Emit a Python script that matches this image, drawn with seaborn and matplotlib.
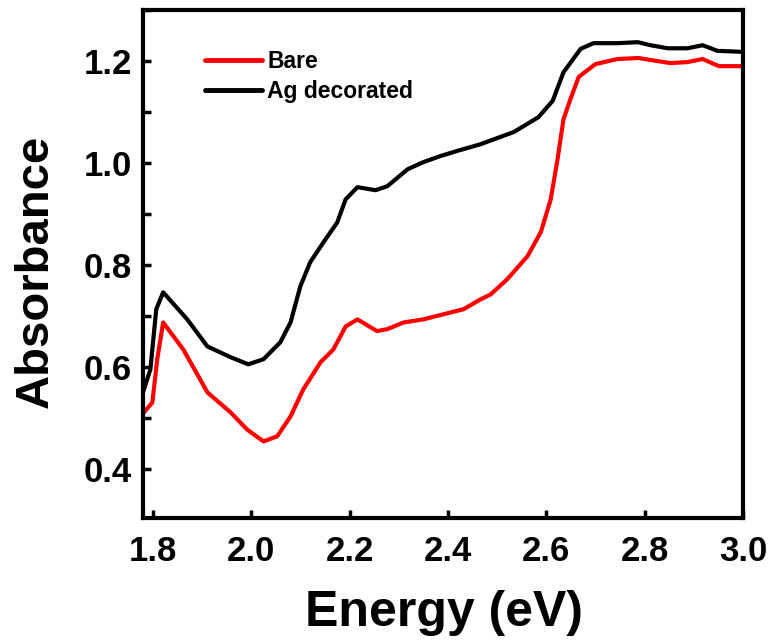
import numpy as np
import pandas as pd
import matplotlib
matplotlib.use("Agg")
import matplotlib.pyplot as plt
from matplotlib.ticker import MultipleLocator
import seaborn as sns

# Data
ag_energy = [1.780, 1.795, 1.807, 1.821, 1.870, 1.911, 1.958, 1.994, 2.025, 2.059,
             2.080, 2.100, 2.120, 2.147, 2.175, 2.192, 2.216, 2.253, 2.277, 2.318,
             2.350, 2.385, 2.419, 2.466, 2.534, 2.584, 2.613, 2.635, 2.670, 2.696,
             2.745, 2.786, 2.812, 2.847, 2.887, 2.918, 2.948, 3.000]
ag_abs = [0.551, 0.596, 0.714, 0.747, 0.694, 0.641, 0.620, 0.606, 0.616, 0.649,
          0.688, 0.759, 0.806, 0.845, 0.884, 0.929, 0.953, 0.947, 0.955, 0.988,
          1.002, 1.014, 1.024, 1.037, 1.061, 1.090, 1.122, 1.178, 1.224, 1.235,
          1.235, 1.237, 1.231, 1.225, 1.225, 1.231, 1.220, 1.218]

bare_energy = [1.782, 1.799, 1.809, 1.821, 1.862, 1.911, 1.958, 1.992, 2.025, 2.053,
               2.080, 2.106, 2.141, 2.167, 2.192, 2.216, 2.256, 2.277, 2.310, 2.350,
               2.391, 2.432, 2.466, 2.487, 2.521, 2.562, 2.589, 2.609, 2.623, 2.635,
               2.649, 2.666, 2.700, 2.745, 2.788, 2.812, 2.853, 2.887, 2.918, 2.951,
               3.000]
bare_abs = [0.512, 0.531, 0.616, 0.688, 0.635, 0.551, 0.512, 0.478, 0.455, 0.465,
            0.504, 0.557, 0.610, 0.635, 0.680, 0.694, 0.671, 0.675, 0.688, 0.694,
            0.704, 0.714, 0.733, 0.743, 0.773, 0.818, 0.865, 0.929, 1.008, 1.086,
            1.125, 1.169, 1.194, 1.204, 1.206, 1.202, 1.196, 1.198, 1.204, 1.190,
            1.190]

series_names = ["Bare", "Ag decorated"]
series_colors = ["#ff0000", "#000000"]
x_ticks = [1.8, 2.0, 2.2, 2.4, 2.6, 2.8, 3.0]
y_ticks = [0.4, 0.6, 0.8, 1.0, 1.2]

df = pd.concat([
    pd.DataFrame({"Energy": bare_energy, "Absorbance": bare_abs, "Sample": series_names[0]}),
    pd.DataFrame({"Energy": ag_energy, "Absorbance": ag_abs, "Sample": series_names[1]}),
], ignore_index=True)

sns.set_style("white")
plt.rcParams["font.family"] = ["Liberation Sans", "DejaVu Sans"]
plt.rcParams["text.color"] = "black"
plt.rcParams["axes.labelcolor"] = "black"
plt.rcParams["xtick.color"] = "black"
plt.rcParams["ytick.color"] = "black"

fig = plt.figure(figsize=(7.75, 6.41), dpi=100)
ax = fig.add_axes([0.1845, 0.1919, 0.7742, 0.7925])

sns.lineplot(data=df, x="Energy", y="Absorbance", hue="Sample",
             hue_order=series_names, palette=series_colors,
             linewidth=3.0, sort=False, estimator=None, ax=ax)

ax.set_xlim(1.78, 3.0)
ax.set_ylim(0.305, 1.30)
ax.set_xticks(x_ticks)
ax.set_xticklabels([f"{v:.1f}" for v in x_ticks])
ax.set_yticks(y_ticks)
ax.set_yticklabels([f"{v:.1f}" for v in y_ticks])
ax.yaxis.set_minor_locator(MultipleLocator(0.1))

for s in ax.spines.values():
    s.set_visible(True)
    s.set_linewidth(3.0)
    s.set_color("black")

ax.tick_params(axis="x", which="major", pad=12)
ax.tick_params(axis="y", which="major", pad=8)
ax.tick_params(axis="both", which="major", direction="in", length=6, width=2.5,
               labelsize=25, colors="black", bottom=True, left=True, top=False, right=False)
ax.tick_params(axis="y", which="minor", direction="in", length=6, width=2.5,
               left=True, right=False, colors="black")
for lbl in ax.get_xticklabels() + ax.get_yticklabels():
    lbl.set_fontweight("bold")

ax.set_xlabel("Energy (eV)", fontsize=36, fontweight="bold", color="black")
ax.xaxis.label.set_va("baseline")
ax.xaxis.set_label_coords(0.501, -0.2126)
ax.set_ylabel("Absorbance", fontsize=34, fontweight="bold", color="black")
ax.yaxis.label.set_va("baseline")
ax.yaxis.set_label_coords(-0.158, 0.485)

leg = ax.legend(loc="upper left", bbox_to_anchor=(0.103, 0.921), frameon=False,
                prop={"size": 16.5, "weight": "bold"}, handlelength=2.5,
                handletextpad=0.22, labelspacing=0.3, borderpad=0, borderaxespad=0)
for line in leg.get_lines():
    line.set_linewidth(3.5)
for t in leg.get_texts():
    t.set_color("black")

fig.savefig("out.png", dpi=100)
